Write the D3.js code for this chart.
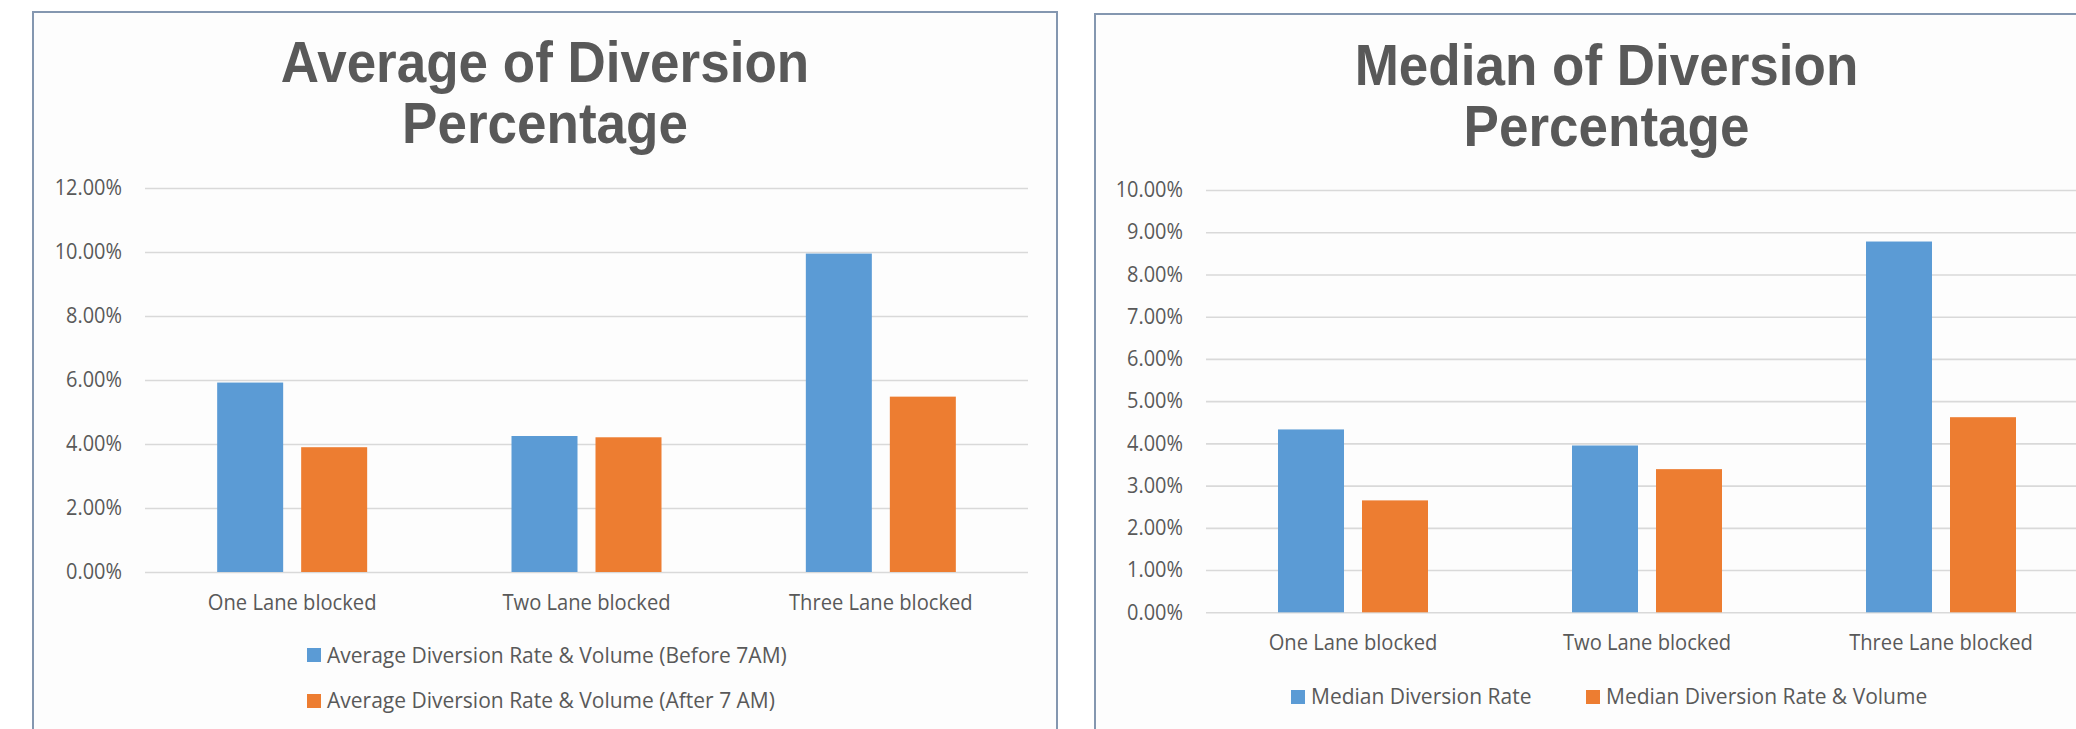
<!DOCTYPE html>
<html>
<head>
<meta charset="utf-8">
<script src="https://cdn.jsdelivr.net/npm/d3@7"></script>
<style>
  html, body { margin: 0; padding: 0; background: #ffffff; }
  svg { display: block; }
</style>
</head>
<body>
<svg id="chart" width="2076" height="729"></svg>
<script>
// ---------------- DATA ----------------
const categories = ["One Lane blocked", "Two Lane blocked", "Three Lane blocked"];

const avgTitle = ["Average of Diversion", "Percentage"];
const avgSeriesNames = ["Average Diversion Rate & Volume (Before 7AM)", "Average Diversion Rate & Volume (After 7 AM)"];
const avgBefore = [0.0592, 0.0425, 0.0995];
const avgAfter  = [0.0390, 0.0421, 0.0548];
const avgTicks  = [0, 0.02, 0.04, 0.06, 0.08, 0.10, 0.12];

const medTitle = ["Median of Diversion", "Percentage"];
const medSeriesNames = ["Median Diversion Rate", "Median Diversion Rate & Volume"];
const medRate    = [0.0433, 0.0395, 0.0878];
const medRateVol = [0.0265, 0.0339, 0.0462];
const medTicks   = [0, 0.01, 0.02, 0.03, 0.04, 0.05, 0.06, 0.07, 0.08, 0.09, 0.10];

const seriesColors = ["#5B9BD5", "#ED7D31"];

// ---------------- HELPERS ----------------
const svg = d3.select("#chart");
const textColor = "#595959";
const fmtPct = d3.format(".2%");

function condense(sel, factor) {
  sel.each(function () {
    const len = this.getComputedTextLength();
    d3.select(this).attr("textLength", len * factor).attr("lengthAdjust", "spacingAndGlyphs");
  });
}

function drawChart(cfg) {
  const g = svg.append("g");

  // frame
  g.append("rect")
    .attr("x", cfg.frame.x).attr("y", cfg.frame.y)
    .attr("width", cfg.frame.w).attr("height", cfg.frame.h)
    .attr("fill", "#fdfdfd")
    .attr("stroke", "#8497B0").attr("stroke-width", 2);

  // title
  const cx = cfg.frame.x + cfg.frame.w / 2;
  cfg.title.forEach((t, i) => {
    g.append("text")
      .attr("x", cx).attr("y", cfg.titleY[i])
      .attr("text-anchor", "middle")
      .attr("font-family", "Liberation Sans, Arial, sans-serif")
      .attr("font-weight", "bold")
      .attr("font-size", 57)
      .attr("fill", textColor)
      .text(t)
      .call(condense, 0.93);
  });

  const y = d3.scaleLinear().domain([0, cfg.ticks[cfg.ticks.length - 1]]).range([cfg.y0, cfg.yTop]);
  const x0 = d3.scaleBand().domain(categories).range([cfg.plotX0, cfg.plotX1]).paddingInner(0).paddingOuter(0);
  const x1 = d3.scaleBand().domain([0, 1]).range([0, 150]).paddingInner(0.2143).paddingOuter(0);

  // grid lines via axis
  const grid = g.append("g")
    .attr("transform", `translate(${cfg.plotX0},0)`)
    .call(d3.axisLeft(y).tickValues(cfg.ticks).tickSize(-(cfg.plotX1 - cfg.plotX0)).tickFormat(""));
  grid.select(".domain").remove();
  grid.selectAll(".tick line").attr("stroke", "#d9d9d9").attr("stroke-width", 1.6);

  // y tick labels via axis
  const yAx = g.append("g")
    .attr("transform", `translate(${cfg.labelX},0)`)
    .call(d3.axisLeft(y).tickValues(cfg.ticks).tickSize(0).tickPadding(0).tickFormat(fmtPct));
  yAx.select(".domain").remove();
  yAx.selectAll("text")
    .attr("font-family", "Open Sans, sans-serif")
    .attr("font-size", 21)
    .attr("fill", textColor)
    .call(condense, 0.95);

  // bars
  const series = cfg.series;
  categories.forEach((c, ci) => {
    const bx = x0(c) + x0.bandwidth() / 2 - 75;
    series.forEach((s, si) => {
      g.append("rect")
        .attr("x", bx + x1(si))
        .attr("y", y(s[ci]))
        .attr("width", x1.bandwidth())
        .attr("height", y(0) - y(s[ci]))
        .attr("fill", seriesColors[si]);
    });
  });

  // x axis labels via axis
  const xAx = g.append("g")
    .attr("transform", `translate(0,${cfg.y0})`)
    .call(d3.axisBottom(x0).tickSize(0).tickPadding(0));
  xAx.select(".domain").remove();
  xAx.selectAll("text")
    .attr("dy", 0)
    .attr("y", cfg.xLabelBaseline - cfg.y0)
    .attr("font-family", "Open Sans, sans-serif")
    .attr("font-size", 21)
    .attr("fill", textColor)
    .call(condense, 0.96);

  // legend
  cfg.legend.forEach((L, i) => {
    g.append("rect")
      .attr("x", L.sx).attr("y", L.sy).attr("width", 14).attr("height", 14)
      .attr("fill", seriesColors[i]);
    g.append("text")
      .attr("x", L.tx).attr("y", L.ty)
      .attr("font-family", "Open Sans, sans-serif")
      .attr("font-size", 21)
      .attr("fill", textColor)
      .text(cfg.names[i]);
  });
}

drawChart({
  frame: { x: 33, y: 12, w: 1024, h: 740 },
  title: avgTitle,
  titleY: [82, 143],
  ticks: avgTicks,
  y0: 572, yTop: 188,
  plotX0: 145, plotX1: 1028,
  labelX: 122,
  xLabelBaseline: 610,
  series: [avgBefore, avgAfter],
  names: avgSeriesNames,
  legend: [
    { sx: 307, sy: 648, tx: 327, ty: 663 },
    { sx: 307, sy: 694, tx: 327, ty: 708 }
  ]
});

drawChart({
  frame: { x: 1095, y: 14, w: 1023, h: 740 },
  title: medTitle,
  titleY: [85, 146],
  ticks: medTicks,
  y0: 612.3, yTop: 190,
  plotX0: 1206, plotX1: 2088,
  labelX: 1183,
  xLabelBaseline: 650,
  series: [medRate, medRateVol],
  names: medSeriesNames,
  legend: [
    { sx: 1291, sy: 690, tx: 1311, ty: 704 },
    { sx: 1586, sy: 690, tx: 1606, ty: 704 }
  ]
});
</script>
</body>
</html>
